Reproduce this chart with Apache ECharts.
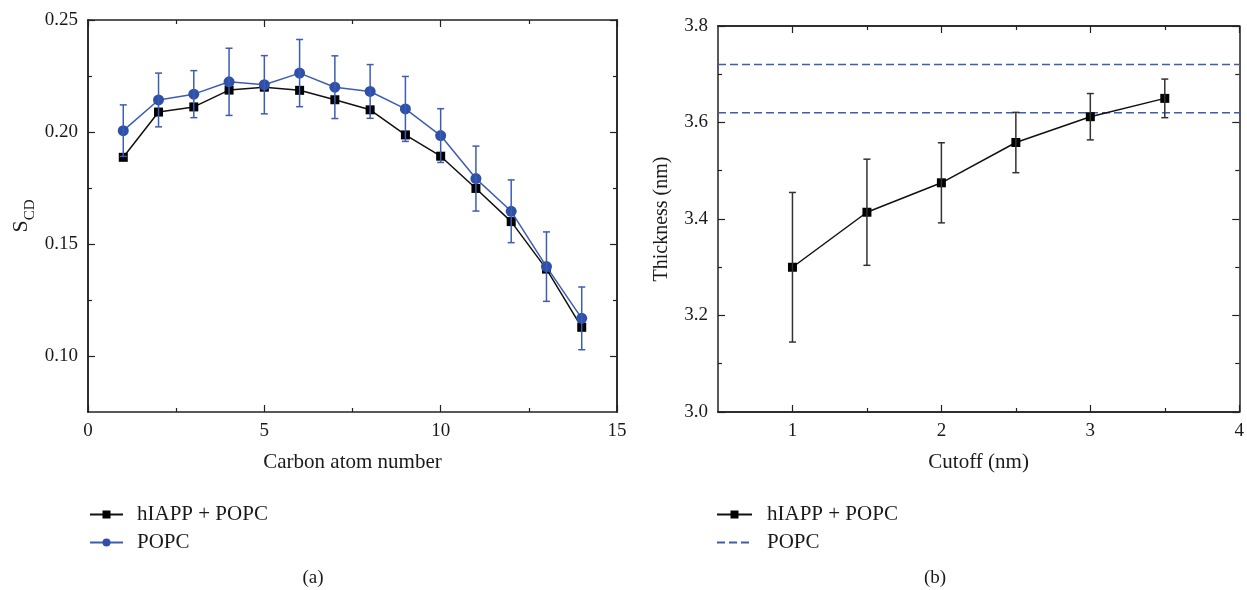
<!DOCTYPE html>
<html>
<head>
<meta charset="utf-8">
<script src="https://cdn.jsdelivr.net/npm/echarts@6/dist/echarts.min.js"></script>
<style>
html,body{margin:0;padding:0;background:#fff;}
#chart{width:1247px;height:590px;}
</style>
</head>
<body>
<div id="chart"></div>
<script>
// ---- Panel (a) data ----
const carbonAtoms = [1, 2, 3, 4, 5, 6, 7, 8, 9, 10, 11, 12, 13, 14];
const hiappScd = [0.1887, 0.2089, 0.2112, 0.2187, 0.2200, 0.2186, 0.2144, 0.2099, 0.1987, 0.1892, 0.1748, 0.1600, 0.1388, 0.1128];
const popcScd = [0.2006, 0.2143, 0.2169, 0.2224, 0.2211, 0.2263, 0.2200, 0.2181, 0.2103, 0.1984, 0.1792, 0.1646, 0.1399, 0.1168];
const popcScdErr = [0.0115, 0.0120, 0.0105, 0.0150, 0.0130, 0.0150, 0.0140, 0.0120, 0.0145, 0.0120, 0.0145, 0.0140, 0.0155, 0.0140];
const scdMajorTicks = [0.10, 0.15, 0.20, 0.25];
const scdMinorTicks = [0.125, 0.175, 0.225];

// ---- Panel (b) data ----
const cutoffs = [1, 1.5, 2, 2.5, 3, 3.5];
const thickness = [3.300, 3.414, 3.475, 3.5585, 3.612, 3.650];
const thicknessErr = [0.155, 0.110, 0.083, 0.0625, 0.048, 0.040];
const popcThicknessLevels = [3.62, 3.72];
const cutoffMajorTicks = [1, 2, 3, 4];
const cutoffMinorTicks = [1.5, 2.5, 3.5];

const FONT = 'Liberation Serif';
const TXT = '#1a1a1a';
const AXC = '#222';
const BLUE = '#2f50a8';
const BLUE_LINE = '#3c5db3';

function errBar(color, cap, lw) {
  return function (params, api) {
    const x = api.value(0), y = api.value(1), e = api.value(2);
    const t = api.coord([x, y + e]);
    const b = api.coord([x, y - e]);
    const h = cap / 2;
    const st = { stroke: color, lineWidth: lw };
    return {
      type: 'group',
      children: [
        { type: 'line', shape: { x1: t[0], y1: t[1], x2: b[0], y2: b[1] }, style: st },
        { type: 'line', shape: { x1: t[0] - h, y1: t[1], x2: t[0] + h, y2: t[1] }, style: st },
        { type: 'line', shape: { x1: b[0] - h, y1: b[1], x2: b[0] + h, y2: b[1] }, style: st }
      ]
    };
  };
}

const axisLine = { show: true, onZero: false, lineStyle: { color: AXC, width: 1.5 } };
const labelStyle = { color: TXT, fontFamily: FONT, fontSize: 19 };

function tickAxis(base, values, len, labels, fmt) {
  return Object.assign({
    axisLine: axisLine,
    splitLine: { show: false },
    axisTick: { show: true, inside: true, length: len, customValues: values, lineStyle: { color: AXC, width: 1.2 } },
    axisLabel: labels ? Object.assign({ customValues: values, margin: 10, formatter: fmt }, labelStyle) : { show: false }
  }, base);
}

const xAxes = [
  // grid 0 bottom
  {
    type: 'value', gridIndex: 0, position: 'bottom', min: 0, max: 15, interval: 5,
    axisLine: axisLine, splitLine: { show: false },
    axisTick: { show: true, inside: true, length: 7, lineStyle: { color: AXC, width: 1.2 } },
    minorTick: { show: true, splitNumber: 2, length: 4, lineStyle: { color: AXC, width: 1.2 } },
    axisLabel: Object.assign({ margin: 10 }, labelStyle),
    name: 'Carbon atom number', nameLocation: 'middle', nameGap: 40,
    nameTextStyle: { color: TXT, fontFamily: FONT, fontSize: 21 }
  },
  // grid 0 top
  {
    type: 'value', gridIndex: 0, position: 'top', min: 0, max: 15, interval: 5,
    axisLine: axisLine, splitLine: { show: false },
    axisTick: { show: true, inside: true, length: 7, lineStyle: { color: AXC, width: 1.2 } },
    minorTick: { show: true, splitNumber: 2, length: 4, lineStyle: { color: AXC, width: 1.2 } },
    axisLabel: { show: false }
  },
  // grid 1 bottom major
  tickAxis({
    type: 'value', gridIndex: 1, position: 'bottom', min: 0.5, max: 4,
    name: 'Cutoff (nm)', nameLocation: 'middle', nameGap: 40,
    nameTextStyle: { color: TXT, fontFamily: FONT, fontSize: 21 }
  }, cutoffMajorTicks, 7, true, v => String(v)),
  // grid 1 bottom minor
  tickAxis({ type: 'value', gridIndex: 1, position: 'bottom', min: 0.5, max: 4 }, cutoffMinorTicks, 4, false),
  // grid 1 top major
  tickAxis({ type: 'value', gridIndex: 1, position: 'top', min: 0.5, max: 4 }, cutoffMajorTicks, 7, false),
  // grid 1 top minor
  tickAxis({ type: 'value', gridIndex: 1, position: 'top', min: 0.5, max: 4 }, cutoffMinorTicks, 4, false)
];

const yAxes = [
  // grid 0 left major (labels)
  tickAxis({
    type: 'value', gridIndex: 0, position: 'left', min: 0.075, max: 0.25,
    name: '{s|S}{sub|CD}', nameLocation: 'middle', nameGap: 50, nameRotate: 90,
    nameTextStyle: {
      color: TXT, fontFamily: FONT, fontSize: 21,
      rich: {
        s: { fontFamily: FONT, fontSize: 22, color: TXT, verticalAlign: 'bottom', lineHeight: 26, padding: [0, 0, 6, 0] },
        sub: { fontFamily: FONT, fontSize: 15, color: TXT, verticalAlign: 'bottom', lineHeight: 16 }
      }
    }
  }, scdMajorTicks, 7, true, v => v.toFixed(2)),
  // grid 0 left minor
  tickAxis({ type: 'value', gridIndex: 0, position: 'left', min: 0.075, max: 0.25 }, scdMinorTicks, 4, false),
  // grid 0 right major
  tickAxis({ type: 'value', gridIndex: 0, position: 'right', min: 0.075, max: 0.25 }, scdMajorTicks, 7, false),
  // grid 0 right minor
  tickAxis({ type: 'value', gridIndex: 0, position: 'right', min: 0.075, max: 0.25 }, scdMinorTicks, 4, false),
  // grid 1 left
  {
    type: 'value', gridIndex: 1, position: 'left', min: 3.0, max: 3.8, interval: 0.2,
    axisLine: axisLine, splitLine: { show: false },
    axisTick: { show: true, inside: true, length: 7, lineStyle: { color: AXC, width: 1.2 } },
    minorTick: { show: true, splitNumber: 2, length: 4, lineStyle: { color: AXC, width: 1.2 } },
    axisLabel: Object.assign({ margin: 10, formatter: v => v.toFixed(1) }, labelStyle),
    name: 'Thickness (nm)', nameLocation: 'middle', nameGap: 46, nameRotate: 90,
    nameTextStyle: { color: TXT, fontFamily: FONT, fontSize: 20 }
  },
  // grid 1 right
  {
    type: 'value', gridIndex: 1, position: 'right', min: 3.0, max: 3.8, interval: 0.2,
    axisLine: axisLine, splitLine: { show: false },
    axisTick: { show: true, inside: true, length: 7, lineStyle: { color: AXC, width: 1.2 } },
    minorTick: { show: true, splitNumber: 2, length: 4, lineStyle: { color: AXC, width: 1.2 } },
    axisLabel: { show: false }
  }
];

const chart = echarts.init(document.getElementById('chart'), null, { renderer: 'canvas' });

const option = {
  animation: false,
  backgroundColor: '#fff',
  textStyle: { fontFamily: FONT },
  grid: [
    { left: 88, top: 20, width: 529, height: 392 },
    { left: 718, top: 26, width: 524, height: 386 }
  ],
  xAxis: xAxes,
  yAxis: yAxes,
  legend: [
    {
      left: 84, top: 499, orient: 'vertical', itemWidth: 33, itemHeight: 10, itemGap: 7,
      data: ['hIAPP + POPC (a)', 'POPC (a)'],
      formatter: n => n.replace(/ \([ab]\)$/, ''),
      textStyle: { color: TXT, fontFamily: FONT, fontSize: 21, padding: [0, 0, 0, 9] }
    },
    {
      left: 711, top: 499, orient: 'vertical', itemWidth: 35, itemHeight: 10, itemGap: 7,
      data: ['hIAPP + POPC (b)', { name: 'POPC (b)', itemStyle: { opacity: 0 } }],
      formatter: n => n.replace(/ \([ab]\)$/, ''),
      textStyle: { color: TXT, fontFamily: FONT, fontSize: 21, padding: [0, 0, 0, 10] }
    }
  ],
  graphic: [
    { type: 'text', x: 313, y: 578, style: { text: '(a)', font: '19px "Liberation Serif"', fill: TXT, align: 'center', verticalAlign: 'middle', textAlign: 'center', textVerticalAlign: 'middle' } },
    { type: 'text', x: 935, y: 578, style: { text: '(b)', font: '19px "Liberation Serif"', fill: TXT, align: 'center', verticalAlign: 'middle', textAlign: 'center', textVerticalAlign: 'middle' } }
  ],
  series: [
    {
      name: 'hIAPP + POPC (a)', type: 'line', xAxisIndex: 0, yAxisIndex: 0,
      data: carbonAtoms.map((c, i) => [c, hiappScd[i]]),
      symbol: 'rect', symbolSize: 9, z: 2,
      itemStyle: { color: '#000' },
      lineStyle: { color: '#111', width: 1.5 }
    },
    {
      name: 'POPC (a)', type: 'line', xAxisIndex: 0, yAxisIndex: 0,
      data: carbonAtoms.map((c, i) => [c, popcScd[i]]),
      symbol: 'circle', symbolSize: 11, z: 3,
      itemStyle: { color: BLUE },
      lineStyle: { color: BLUE_LINE, width: 1.5 }
    },
    {
      name: 'POPC err', type: 'custom', xAxisIndex: 0, yAxisIndex: 0, z: 4,
      renderItem: errBar(BLUE_LINE, 7, 1.5),
      encode: { x: 0, y: 1 },
      data: carbonAtoms.map((c, i) => [c, popcScd[i], popcScdErr[i]])
    },
    {
      name: 'hIAPP + POPC (b)', type: 'line', xAxisIndex: 2, yAxisIndex: 4,
      data: cutoffs.map((c, i) => [c, thickness[i]]),
      symbol: 'rect', symbolSize: 9, z: 3,
      itemStyle: { color: '#000' },
      lineStyle: { color: '#111', width: 1.5 }
    },
    {
      name: 'hIAPP err', type: 'custom', xAxisIndex: 2, yAxisIndex: 4, z: 4,
      renderItem: errBar('#333', 7, 1.5),
      encode: { x: 0, y: 1 },
      data: cutoffs.map((c, i) => [c, thickness[i], thicknessErr[i]])
    }
  ].concat(popcThicknessLevels.map(v => ({
    name: 'POPC (b)', type: 'line', xAxisIndex: 2, yAxisIndex: 4,
    data: [[0.5, v], [4, v]],
    symbol: 'none', z: 2,
    itemStyle: { color: BLUE_LINE },
    lineStyle: { color: BLUE_LINE, width: 1.5, type: [8, 4] }
  })))
};

chart.setOption(option);
</script>
</body>
</html>
